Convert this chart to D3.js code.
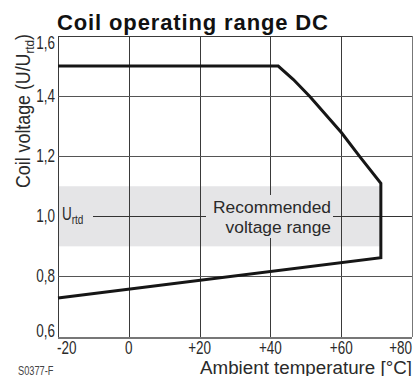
<!DOCTYPE html>
<html>
<head>
<meta charset="utf-8">
<script src="https://cdn.jsdelivr.net/npm/d3@7/dist/d3.min.js"></script>
<style>
  html, body { margin: 0; padding: 0; background: #fff; }
  svg { display: block; }
  text { font-family: "Liberation Sans", Arial, sans-serif; }
</style>
</head>
<body>
<svg id="chart" width="417" height="376"></svg>
<script>
// Ambient temperature ticks (°C) and their printed labels
const tempTicks = [-20, 0, 20, 40, 60, 80];
const tempLabels = ["-20", "0", "+20", "+40", "+60", "+80"];

// Coil voltage ticks (U/Urtd) and their printed labels
const voltTicks = [0.6, 0.8, 1.0, 1.2, 1.4, 1.6];
const voltLabels = ["0,6", "0,8", "1,0", "1,2", "1,4", "1,6"];

// Upper limit of the operating range
const upperTemp = [-20, 42.2, 46.5, 51.2, 60.1, 65.3, 71.2];
const upperVolt = [1.5, 1.5, 1.455, 1.398, 1.278, 1.198, 1.11];

// Lower limit (pick-up voltage), drawn from the right edge back to -20 °C
const lowerTemp = [71.2, -20];
const lowerVolt = [0.862, 0.728];

// Recommended voltage band
const bandVolt = [0.9, 1.1];
const bandTemp = [-20, 71.2];
const ratedVolt = 1.0;

const svg = d3.select("#chart");
const x = d3.scaleLinear().domain([-20, 80]).range([58, 412]);
const y = d3.scaleLinear().domain([0.6, 1.6]).range([336.5, 36]);

const gridColor = "#3a3a3a";
const textColor = "#2a2a2a";
const bandColor = "#e5e5e7";
const squeeze = 0.77;   // condensed lettering for ticks and small labels

// Condensed text: positioned by translate, narrowed along its baseline
function condensed(parent, px, py) {
  return parent.append("text")
    .attr("transform", `translate(${px},${py}) scale(${squeeze},1)`);
}

// Recommended band
svg.append("rect")
  .attr("x", x(bandTemp[0])).attr("y", y(bandVolt[1]))
  .attr("width", x(bandTemp[1]) - x(bandTemp[0]))
  .attr("height", y(bandVolt[0]) - y(bandVolt[1]))
  .attr("fill", bandColor);

// Grid
const grid = svg.append("g").attr("shape-rendering", "crispEdges");
grid.selectAll("line.v").data(tempTicks).join("line")
  .attr("class", "v")
  .attr("x1", d => Math.round(x(d)) + 0.5).attr("x2", d => Math.round(x(d)) + 0.5)
  .attr("y1", y(1.6)).attr("y2", y(0.6))
  .attr("stroke", (d, i) => i === tempTicks.length - 1 ? "#777" : gridColor)
  .attr("stroke-width", (d, i) => i === tempTicks.length - 1 ? 1.5 : 1);
grid.selectAll("line.h").data(voltTicks.filter(v => v !== ratedVolt)).join("line")
  .attr("class", "h")
  .attr("x1", x(-20)).attr("x2", x(80))
  .attr("y1", d => Math.round(y(d)) + 0.5).attr("y2", d => Math.round(y(d)) + 0.5)
  .attr("stroke", d => d === 0.6 ? "#777" : d === 1.6 ? gridColor : "#555")
  .attr("stroke-width", d => d === 0.6 ? 2 : 1);

// Rated-voltage line, interrupted by its labels
const yr = Math.round(y(ratedVolt)) + 0.5;
grid.append("line").attr("x1", 93).attr("x2", 206).attr("y1", yr).attr("y2", yr).attr("stroke", "#333");
grid.append("line").attr("x1", 333).attr("x2", x(80)).attr("y1", yr).attr("y2", yr).attr("stroke", "#333");

// Label backing over the band (hides grid behind the text)
svg.append("rect").attr("x", 207).attr("y", 195).attr("width", 125).attr("height", 43).attr("fill", bandColor);

// Band labels
const ur = condensed(svg, 62, y(ratedVolt) + 3.5).attr("fill", textColor).attr("font-size", 17.5);
ur.append("tspan").text("U");
ur.append("tspan").attr("font-size", 13).attr("dy", 4).text("rtd");

svg.append("text").attr("x", 331).attr("y", 213)
  .attr("text-anchor", "end").attr("font-size", 17.4).attr("fill", textColor).text("Recommended");
svg.append("text").attr("x", 331).attr("y", 233)
  .attr("text-anchor", "end").attr("font-size", 17.4).attr("fill", textColor).text("voltage range");

// Operating range boundary
const boundary = upperTemp.map((t, i) => [t, upperVolt[i]])
  .concat(lowerTemp.map((t, i) => [t, lowerVolt[i]]));
svg.append("path")
  .attr("d", d3.line().x(d => x(d[0])).y(d => y(d[1]))(boundary))
  .attr("fill", "none").attr("stroke", "#161616").attr("stroke-width", 3)
  .attr("stroke-linejoin", "miter");

// X tick labels
const xt = svg.append("g");
tempTicks.forEach((d, i) => {
  condensed(xt, x(d) + (i === 0 ? -1 : 0), 353.5)
    .attr("text-anchor", i === 0 ? "start" : i === tempTicks.length - 1 ? "end" : "middle")
    .attr("font-size", 17.5).attr("fill", textColor)
    .text(tempLabels[i]);
});

// Y tick labels
const ytk = svg.append("g");
voltTicks.forEach((d, i) => {
  const off = i === voltTicks.length - 1 ? 13 : i === 0 ? 0 : 6;
  condensed(ytk, 55, y(d) + off)
    .attr("text-anchor", "end")
    .attr("font-size", 17.5).attr("fill", textColor)
    .text(voltLabels[i]);
});

// Axis titles
svg.append("text").attr("x", 412).attr("y", 373.5)
  .attr("text-anchor", "end").attr("font-size", 17.5).attr("fill", textColor)
  .attr("textLength", 212).attr("lengthAdjust", "spacingAndGlyphs")
  .text("Ambient temperature [°C]");

const yt = svg.append("text")
  .attr("transform", "translate(30,188) rotate(-90) scale(0.89,1)")
  .attr("font-size", 20).attr("fill", textColor);
yt.append("tspan").text("Coil voltage (U/U");
yt.append("tspan").attr("font-size", 13).attr("dy", 4).text("rtd");
yt.append("tspan").attr("dy", -4).text(")");

// Title
svg.append("text").attr("x", 57).attr("y", 29.5)
  .attr("font-size", 22).attr("font-weight", "bold").attr("fill", "#111")
  .attr("textLength", 271).attr("lengthAdjust", "spacing")
  .text("Coil operating range DC");

// Drawing number
condensed(svg, 18, 375).attr("font-size", 12).attr("fill", "#444").text("S0377-F");
</script>
</body>
</html>
